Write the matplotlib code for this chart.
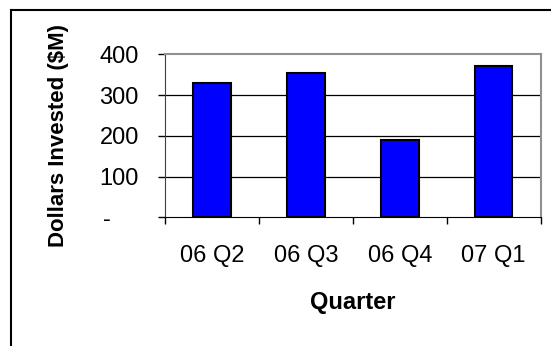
import matplotlib
matplotlib.use("Agg")
import matplotlib.pyplot as plt
from matplotlib.lines import Line2D
from matplotlib.transforms import ScaledTranslation

quarters = ["06 Q2", "06 Q3", "06 Q4", "07 Q1"]
invested = [329, 355, 189, 372]
yticks = [0, 100, 200, 300, 400]
ytick_labels = ["-", "100", "200", "300", "400"]

plt.rcParams['font.family'] = ['Liberation Sans', 'DejaVu Sans']

fig = plt.figure(figsize=(5.51, 3.46), dpi=100)
ax = fig.add_axes([0.300, 0.372, 0.681, 0.471])

x = list(range(len(quarters)))
ax.bar(x, invested, width=0.4, color='#0000ff', edgecolor='black', linewidth=1.5, zorder=3)

ax.set_xlim(-0.5, len(quarters) - 0.5)
ax.set_ylim(0, 400)

# gridlines at the inner y ticks
for v in yticks[1:-1]:
    ax.axhline(v, color='black', linewidth=0.9, zorder=1)

ax.set_yticks(yticks)
ax.set_yticklabels(ytick_labels, fontsize=17)
ax.tick_params(axis='y', direction='out', length=5, width=1, pad=14)
# accounting-style dash for zero sits further left
zero_lbl = ax.get_yticklabels()[0]
zero_lbl.set_transform(zero_lbl.get_transform() + ScaledTranslation(-0.28, 0, fig.dpi_scale_trans))

# category boundaries get the tick marks, labels sit at the centres
ax.set_xticks([i - 0.5 for i in range(len(quarters) + 1)])
ax.set_xticklabels([])
ax.set_xticks(x, minor=True)
ax.set_xticklabels(quarters, minor=True, fontsize=17)
ax.tick_params(axis='x', which='major', direction='out', length=5, width=1)
ax.tick_params(axis='x', which='minor', length=0, pad=20)

for side in ['top', 'right']:
    ax.spines[side].set_color('#909090')
    ax.spines[side].set_linewidth(1.5)
ax.spines['left'].set_color('#404040')
ax.spines['bottom'].set_color('black')

ax.set_xlabel("Quarter", fontsize=17, fontweight='bold', labelpad=17)
ax.set_ylabel("Dollars Invested ($M)", fontsize=16, fontweight='bold', labelpad=22)

# frame around the chart area
fig.add_artist(Line2D([0.02, 0.02], [0.0, 0.9725], color='black', linewidth=1.5))
fig.add_artist(Line2D([0.02, 1.0], [0.9725, 0.9725], color='black', linewidth=1.5))

fig.savefig("out.png", dpi=100)
